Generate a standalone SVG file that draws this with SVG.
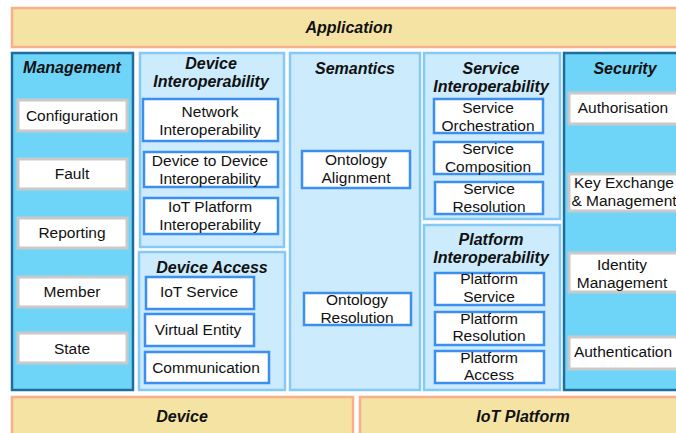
<svg xmlns="http://www.w3.org/2000/svg" width="676" height="433" viewBox="0 0 676 433">
  <style>
    text { font-family: "Liberation Sans", Arial, sans-serif; fill: #111; text-anchor: middle; }
    .title { font-size: 16px; font-weight: bold; font-style: italic; }
    .lbl { font-size: 15.5px; }
    .bar { fill: #F4E3A3; stroke: #F8B08C; stroke-width: 2.5; }
    .dark { fill: #6FD5F8; stroke: #1D6E9F; stroke-width: 2.5; }
    .light { fill: #CCEBFC; stroke: #86C8F6; stroke-width: 2.5; }
    .gbox { fill: #FFFFFF; stroke: #C9C9C9; stroke-width: 3; }
    .bbox { fill: #FFFFFF; stroke: #3D8FEF; stroke-width: 2.5; }
  </style>
  <rect width="676" height="433" fill="#FFFFFF"/>

  <!-- top and bottom layers -->
  <g id="application">
    <rect class="bar" x="12" y="8" width="670" height="39"/>
    <text class="title" x="349" y="33">Application</text>
  </g>
  <g id="device">
    <rect class="bar" x="12" y="397" width="341" height="45"/>
    <text class="title" x="182" y="422">Device</text>
  </g>
  <g id="iot-platform">
    <rect class="bar" x="360" y="397" width="322" height="45"/>
    <text class="title" x="523" y="422">IoT Platform</text>
  </g>

  <!-- Management column -->
  <g id="management">
    <rect class="dark" x="12" y="53" width="121" height="337"/>
    <text class="title" x="72" y="73">Management</text>
  </g>
  <g id="configuration">
    <rect class="gbox" x="18" y="100" width="109" height="31"/>
    <text class="lbl" x="72" y="121">Configuration</text>
  </g>
  <g id="fault">
    <rect class="gbox" x="18" y="159" width="109" height="30"/>
    <text class="lbl" x="72" y="179">Fault</text>
  </g>
  <g id="reporting">
    <rect class="gbox" x="18" y="218" width="109" height="30"/>
    <text class="lbl" x="72" y="238">Reporting</text>
  </g>
  <g id="member">
    <rect class="gbox" x="18" y="277" width="109" height="30"/>
    <text class="lbl" x="72" y="297">Member</text>
  </g>
  <g id="state">
    <rect class="gbox" x="18" y="333" width="109" height="30"/>
    <text class="lbl" x="72" y="354">State</text>
  </g>

  <!-- Device Interoperability -->
  <g id="device-interoperability">
    <rect class="light" x="140" y="53" width="144" height="194"/>
    <text class="title" x="211" y="69">Device</text>
    <text class="title" x="211" y="87">Interoperability</text>
  </g>
  <g id="network-interoperability">
    <rect class="bbox" x="143" y="99" width="135" height="42"/>
    <text class="lbl" x="210" y="117">Network</text>
    <text class="lbl" x="210" y="135">Interoperability</text>
  </g>
  <g id="d2d-interoperability">
    <rect class="bbox" x="144" y="152" width="134" height="35"/>
    <text class="lbl" x="210" y="166">Device to Device</text>
    <text class="lbl" x="210" y="184">Interoperability</text>
  </g>
  <g id="iot-platform-interoperability">
    <rect class="bbox" x="144" y="198" width="134" height="36"/>
    <text class="lbl" x="210" y="212">IoT Platform</text>
    <text class="lbl" x="210" y="230">Interoperability</text>
  </g>

  <!-- Device Access -->
  <g id="device-access">
    <rect class="light" x="139" y="252" width="146" height="138"/>
    <text class="title" x="212" y="273">Device Access</text>
  </g>
  <g id="iot-service">
    <rect class="bbox" x="146" y="277" width="108" height="32"/>
    <text class="lbl" x="199" y="297">IoT Service</text>
  </g>
  <g id="virtual-entity">
    <rect class="bbox" x="145" y="314" width="109" height="32"/>
    <text class="lbl" x="198" y="335">Virtual Entity</text>
  </g>
  <g id="communication">
    <rect class="bbox" x="145" y="352" width="124" height="31"/>
    <text class="lbl" x="206" y="373">Communication</text>
  </g>

  <!-- Semantics -->
  <g id="semantics">
    <rect class="light" x="290" y="53" width="130" height="337"/>
    <text class="title" x="355" y="74">Semantics</text>
  </g>
  <g id="ontology-alignment">
    <rect class="bbox" x="302" y="151" width="108" height="37"/>
    <text class="lbl" x="356" y="165">Ontology</text>
    <text class="lbl" x="356" y="183">Alignment</text>
  </g>
  <g id="ontology-resolution">
    <rect class="bbox" x="304" y="293" width="107" height="32"/>
    <text class="lbl" x="357" y="305">Ontology</text>
    <text class="lbl" x="357" y="323">Resolution</text>
  </g>

  <!-- Service Interoperability -->
  <g id="service-interoperability">
    <rect class="light" x="424" y="53" width="136" height="166"/>
    <text class="title" x="491" y="74">Service</text>
    <text class="title" x="491" y="92">Interoperability</text>
  </g>
  <g id="service-orchestration">
    <rect class="bbox" x="434" y="99" width="109" height="34"/>
    <text class="lbl" x="488" y="113">Service</text>
    <text class="lbl" x="488" y="131">Orchestration</text>
  </g>
  <g id="service-composition">
    <rect class="bbox" x="434" y="142" width="109" height="32"/>
    <text class="lbl" x="488" y="154">Service</text>
    <text class="lbl" x="488" y="172">Composition</text>
  </g>
  <g id="service-resolution">
    <rect class="bbox" x="435" y="182" width="108" height="32"/>
    <text class="lbl" x="489" y="194">Service</text>
    <text class="lbl" x="489" y="212">Resolution</text>
  </g>

  <!-- Platform Interoperability -->
  <g id="platform-interoperability">
    <rect class="light" x="424" y="225" width="136" height="165"/>
    <text class="title" x="491" y="245">Platform</text>
    <text class="title" x="491" y="263">Interoperability</text>
  </g>
  <g id="platform-service">
    <rect class="bbox" x="435" y="273" width="109" height="32"/>
    <text class="lbl" x="489" y="284">Platform</text>
    <text class="lbl" x="489" y="302">Service</text>
  </g>
  <g id="platform-resolution">
    <rect class="bbox" x="435" y="312" width="109" height="33"/>
    <text class="lbl" x="489" y="324">Platform</text>
    <text class="lbl" x="489" y="341">Resolution</text>
  </g>
  <g id="platform-access">
    <rect class="bbox" x="435" y="351" width="109" height="32"/>
    <text class="lbl" x="489" y="363">Platform</text>
    <text class="lbl" x="489" y="380">Access</text>
  </g>

  <!-- Security column -->
  <g id="security">
    <rect class="dark" x="564" y="53" width="124" height="337"/>
    <text class="title" x="625" y="74">Security</text>
  </g>
  <g id="authorisation">
    <rect class="gbox" x="569" y="93" width="112" height="31"/>
    <text class="lbl" x="623" y="113">Authorisation</text>
  </g>
  <g id="key-exchange">
    <rect class="gbox" x="569" y="174" width="112" height="37"/>
    <text class="lbl" x="624" y="188">Key Exchange</text>
    <text class="lbl" x="624" y="206">&amp; Management</text>
  </g>
  <g id="identity-management">
    <rect class="gbox" x="569" y="253" width="112" height="39"/>
    <text class="lbl" x="622" y="270">Identity</text>
    <text class="lbl" x="622" y="288">Management</text>
  </g>
  <g id="authentication">
    <rect class="gbox" x="569" y="337" width="112" height="32"/>
    <text class="lbl" x="623" y="357">Authentication</text>
  </g>

  <!-- the layered stack has no connectors -->
  <g id="connectors"/>
</svg>
